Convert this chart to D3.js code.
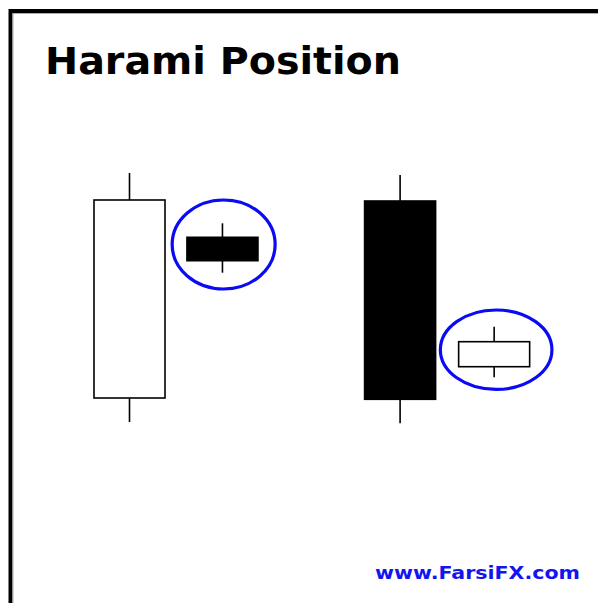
<!DOCTYPE html>
<html>
<head>
<meta charset="utf-8">
<script src="https://cdn.jsdelivr.net/npm/d3@7"></script>
<style>
  html, body { margin: 0; padding: 0; background: #fff; }
  svg { display: block; }
</style>
</head>
<body>
<div id="chart"></div>
<script>

// Candles (price units), slot = horizontal position on the x scale
const slots = [1.7, 3.39, 6.62, 8.33];
const opens = [62, 222.7, 259, 93.3];
const highs = [287, 236.7, 285, 133.3];
const lows = [38, 187.3, 36.7, 82.7];
const closes = [260, 199.3, 60.7, 118.3];

// Which candles are circled (the harami "baby")
const highlighted = [1, 3];

const title = "Harami Position";
const footer = "www.FarsiFX.com";

const width = 598;
const height = 603;

const candles = slots.map((s, i) => ({
  slot: s,
  open: opens[i],
  high: highs[i],
  low: lows[i],
  close: closes[i]
}));

const xScale = d3.scaleLinear()
  .domain([0, 10])
  .range([36, 586]);

const yScale = d3.scaleLinear()
  .domain([0, 300])
  .range([460, 160]);

const svg = d3.select("#chart")
  .append("svg")
    .attr("width", width)
    .attr("height", height);

svg.append("rect")
  .attr("width", width)
  .attr("height", height)
  .attr("fill", "#fff");

// Frame: only top and left edges
svg.append("path")
  .attr("d", `M10.5,${height} V11 H${width}`)
  .attr("fill", "none")
  .attr("stroke", "#000")
  .attr("stroke-width", 4);
svg.append("path")
  .attr("d", `M13,${height} V13.5 H${width}`)
  .attr("fill", "none")
  .attr("stroke", "#aaa")
  .attr("stroke-width", 1);

svg.append("text")
  .attr("x", 45)
  .attr("y", 74)
  .attr("font-family", "DejaVu Sans, Verdana, sans-serif")
  .attr("font-weight", "bold")
  .attr("font-size", 37)
  .attr("textLength", 356)
  .attr("lengthAdjust", "spacingAndGlyphs")
  .attr("fill", "#000")
  .text(title);

const bodyWidth = 71;

const candleG = svg.selectAll(".candle")
  .data(candles)
  .join("g")
    .attr("class", "candle");

candleG.append("line")
  .attr("x1", d => xScale(d.slot))
  .attr("x2", d => xScale(d.slot))
  .attr("y1", d => yScale(d.high))
  .attr("y2", d => yScale(d.low))
  .attr("stroke", "#000")
  .attr("stroke-width", 1.6);

candleG.append("rect")
  .attr("x", d => xScale(d.slot) - bodyWidth / 2)
  .attr("y", d => yScale(Math.max(d.open, d.close)))
  .attr("width", bodyWidth)
  .attr("height", d => Math.abs(yScale(d.open) - yScale(d.close)))
  .attr("fill", d => d.close >= d.open ? "#fff" : "#000")
  .attr("stroke", "#000")
  .attr("stroke-width", 1.6);

// Blue ellipses around the inside candles
const radii = [[51.5, 44.5], [55.8, 39.7]];
const offsets = [[1.2, -3.5], [2, -2.3]];

svg.selectAll(".ring")
  .data(highlighted)
  .join("ellipse")
    .attr("class", "ring")
    .attr("cx", (d, i) => xScale(candles[d].slot) + offsets[i][0])
    .attr("cy", (d, i) => yScale((candles[d].high + candles[d].low) / 2) + offsets[i][1])
    .attr("rx", (d, i) => radii[i][0])
    .attr("ry", (d, i) => radii[i][1])
    .attr("fill", "none")
    .attr("stroke", "#0a0af5")
    .attr("stroke-width", 3.2);

svg.append("text")
  .attr("x", 375)
  .attr("y", 579)
  .attr("font-family", "DejaVu Sans, Verdana, sans-serif")
  .attr("font-weight", "bold")
  .attr("font-size", 18)
  .attr("textLength", 205)
  .attr("lengthAdjust", "spacingAndGlyphs")
  .attr("fill", "#1414f0")
  .text(footer);

</script>
</body>
</html>
